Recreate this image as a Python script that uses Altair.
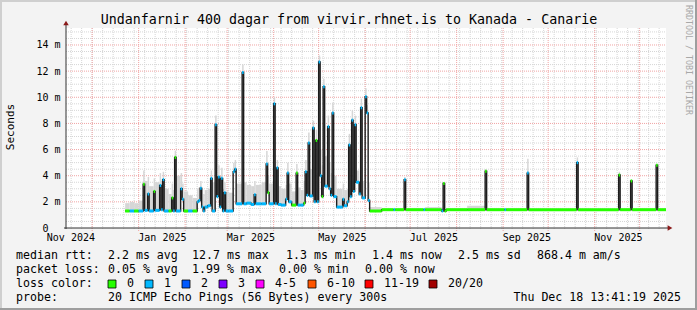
import altair as alt
import pandas as pd

# ---------------- data ----------------
dates = [
    "2024-12-23", "2024-12-26", "2024-12-29", "2025-01-01", "2025-01-04", "2025-01-05",
    "2025-01-07", "2025-01-08", "2025-01-11", "2025-01-12", "2025-01-15", "2025-01-16",
    "2025-01-17", "2025-01-18", "2025-01-21", "2025-01-23", "2025-01-24", "2025-01-25",
    "2025-01-26", "2025-01-29", "2025-01-30", "2025-01-31", "2025-02-03", "2025-02-06",
    "2025-02-09", "2025-02-10", "2025-02-11", "2025-02-12", "2025-02-13", "2025-02-14",
    "2025-02-16", "2025-02-18", "2025-02-19", "2025-02-21", "2025-02-22", "2025-02-23",
    "2025-02-24", "2025-02-25", "2025-02-26", "2025-02-27", "2025-02-28", "2025-03-02",
    "2025-03-05", "2025-03-06", "2025-03-07", "2025-03-11", "2025-03-12", "2025-03-14",
    "2025-03-17", "2025-03-19", "2025-03-20", "2025-03-24", "2025-03-27", "2025-03-28",
    "2025-03-29", "2025-04-01", "2025-04-02", "2025-04-03", "2025-04-04", "2025-04-06",
    "2025-04-09", "2025-04-10", "2025-04-11", "2025-04-13", "2025-04-16", "2025-04-17",
    "2025-04-19", "2025-04-21", "2025-04-22", "2025-04-23", "2025-04-24", "2025-04-25",
    "2025-04-27", "2025-04-28", "2025-04-29", "2025-04-30", "2025-05-01", "2025-05-02",
    "2025-05-03", "2025-05-04", "2025-05-05", "2025-05-07", "2025-05-08", "2025-05-09",
    "2025-05-10", "2025-05-11", "2025-05-13", "2025-05-17", "2025-05-18", "2025-05-20",
    "2025-05-21", "2025-05-22", "2025-05-23", "2025-05-24", "2025-05-25", "2025-05-26",
    "2025-05-28", "2025-05-29", "2025-05-30", "2025-06-01", "2025-06-02", "2025-06-03",
    "2025-06-04", "2025-06-12", "2025-06-20", "2025-06-21",
    "2025-06-27", "2025-06-28", "2025-07-10", "2025-07-11", "2025-07-22", "2025-07-23",
    "2025-07-24", "2025-07-25", "2025-08-08", "2025-08-20", "2025-08-21", "2025-09-02",
    "2025-09-03", "2025-09-17", "2025-09-18", "2025-10-20", "2025-10-21", "2025-11-17",
    "2025-11-18", "2025-11-25", "2025-11-26", "2025-12-12", "2025-12-13",
]
median_ms = [
    1.30, 1.30, 1.30, 1.30, 3.35, 1.35,
    2.60, 1.30, 2.80, 1.35, 3.25, 1.40,
    3.70, 1.30, 1.30, 2.30, 1.30, 5.40,
    1.30, 3.00, 2.20, 1.30, 1.30, 1.30,
    2.00, 2.10, 3.05, 1.60, 1.30, 1.60,
    1.70, 3.80, 1.30, 7.90, 2.40, 3.90,
    1.60, 3.80, 1.30, 2.70, 1.30, 1.30,
    4.30, 4.50, 1.85, 11.90, 1.85, 1.90,
    1.80, 2.55, 1.85, 1.85, 4.90, 2.70,
    1.85, 9.50, 1.85, 4.60, 1.80, 1.75,
    2.20, 4.20, 2.00, 1.75, 4.20, 1.75,
    1.75, 1.90, 4.30, 2.50, 6.50, 2.45,
    7.65, 2.00, 6.70, 2.00, 12.70, 4.00,
    2.40, 10.80, 3.20, 7.75, 3.00, 2.50,
    8.80, 2.40, 1.60, 2.20, 1.70, 2.00,
    6.35, 2.40, 8.25, 2.80, 7.90, 3.50,
    2.60, 9.20, 2.30, 10.05, 8.80, 2.10,
    1.30, 1.40, 1.40, 1.40,
    3.70, 1.40, 1.40, 1.40, 1.30, 3.40,
    1.30, 1.40, 1.40, 4.35, 1.40, 1.40,
    1.40, 4.20, 1.40, 5.00, 1.40, 4.05,
    1.40, 3.60, 1.40, 4.80, 1.40,
]
loss = [
    0, 1, 0, 1, 0, 1,
    1, 1, 0, 1, 1, 1,
    1, 1, 0, 0, 1, 0,
    1, 1, 1, 0, 1, 0,
    1, 1, 1, 1, 1, 1,
    1, 1, 1, 1, 1, 1,
    1, 1, 1, 1, 1, 1,
    1, 1, 1, 1, 1, 1,
    1, 1, 1, 1, 1, 0,
    1, 1, 1, 1, 1, 1,
    1, 1, 1, 0, 0, 1,
    1, 0, 1, 1, 1, 1,
    1, 1, 0, 1, 1, 1,
    0, 1, 1, 1, 1, 1,
    1, 1, 1, 1, 1, 1,
    1, 1, 1, 1, 1, 1,
    1, 1, 1, 1, 1, 1,
    0, 0, 1, 0,
    1, 0, 1, 0, 1, 0,
    0, 0, 0, 0, 0, 1,
    0, 1, 0, 1, 0, 0,
    0, 0, 0, 0, 0,
]
smoke_ms = [
    1.9, 2.0, 1.9, 2.1, 4.4, 3.6,
    3.9, 3.2, 3.8, 3.5, 4.2, 3.6,
    4.3, 3.0, 2.6, 3.4, 2.9, 5.9,
    4.0, 4.2, 3.4, 2.8, 2.5, 2.3,
    3.0, 3.1, 3.6, 3.0, 2.6, 2.9,
    3.0, 4.4, 3.5, 8.6, 4.0, 4.8,
    3.8, 4.6, 3.0, 3.5, 2.8, 2.7,
    5.0, 5.2, 3.4, 12.5, 3.5, 3.3,
    3.2, 3.6, 3.3, 3.5, 5.9, 4.0,
    3.4, 10.0, 3.6, 5.2, 3.2, 3.0,
    3.3, 5.0, 3.4, 2.8, 4.9, 3.1,
    2.9, 3.6, 5.2, 4.2, 7.3, 4.5,
    8.2, 4.6, 7.5, 4.2, 13.2, 6.0,
    4.8, 11.4, 5.5, 8.6, 5.0, 4.2,
    9.6, 4.0, 3.0, 3.4, 2.9, 3.0,
    7.2, 3.6, 9.0, 3.8, 8.6, 4.4,
    3.4, 9.9, 3.6, 10.7, 9.4, 3.5,
    1.6, 1.5, 1.5, 1.5,
    3.9, 1.5, 1.5, 1.6, 1.4, 3.5,
    1.4, 1.5, 1.7, 4.5, 1.5, 1.5,
    1.5, 5.3, 1.5, 5.4, 1.5, 4.3,
    1.5, 3.7, 1.5, 4.9, 1.5,
]
loss_labels = ["0", "1", "2", "3", "4-5", "6-10", "11-19", "20/20"]
loss_colors = ["#26ff00", "#00b8ff", "#0059ff", "#7e00ff", "#ff00ff", "#ff5500", "#ff0000", "#a10000"]
y_ticks = [0, 2, 4, 6, 8, 10, 12, 14]
x_label_dates = [(2024, 11), (2025, 1), (2025, 3), (2025, 5), (2025, 7), (2025, 9), (2025, 11)]

title_text = "Undanfarnir 400 dagar from virvir.rhnet.is to Kanada - Canarie"
row1 = ["median rtt:", "2.2 ms avg", "12.7 ms max", "1.3 ms min", "1.4 ms now", "2.5 ms sd", "868.4 m am/s"]
row2 = ["packet loss:", "0.05 % avg", "1.99 % max", "0.00 % min", "0.00 % now"]
row3_head = "loss color:"
row4 = ["probe:", "20 ICMP Echo Pings (56 Bytes) every 300s"]
stamp = "Thu Dec 18 13:41:19 2025"
side_text = "RRDTOOL / TOBI OETIKER"

END = "2025-12-18T13:41:19Z"

# ---------------- tables ----------------
df = pd.DataFrame({
    "date": dates,
    "date_end": dates[1:] + [END],
    "ms": median_ms,
    "loss": [str(v) for v in loss],
    "smoke": smoke_ms,
})
line_df = pd.DataFrame({"date": dates + [END], "ms": median_ms + [median_ms[-1]]})
week_df = pd.DataFrame({"date": [d.strftime("%Y-%m-%d") for d in pd.date_range("2024-11-17", "2025-12-18", freq="7D")]})
month_df = pd.DataFrame({"date": [d.strftime("%Y-%m-%d") for d in pd.date_range("2024-12-01", "2025-12-18", freq="MS")]})
hmin_df = pd.DataFrame({"ms": [v * 0.5 for v in range(1, 31) if (v * 0.5) % 2 != 0]})
hmaj_df = pd.DataFrame({"ms": [v for v in y_ticks if v > 0]})

FONT = "DejaVu Sans Mono"
W, H = 600, 200
OX, OY = 66, 28   # plot origin in the page

xscale = alt.Scale(type="utc",
                   domain=[alt.DateTime(year=2024, month=11, date=13, hours=13, minutes=41, seconds=19, utc=True),
                           alt.DateTime(year=2025, month=12, date=18, hours=13, minutes=41, seconds=19, utc=True)])
yscale = alt.Scale(domain=[0, 15.3], nice=False, zero=False)

x_axis = alt.Axis(values=[alt.DateTime(year=y, month=m, date=16, hours=12, utc=True) for y, m in x_label_dates],
                  labelExpr="utcFormat(datum.value, '%b %Y')", title=None, grid=False, ticks=False, domain=False,
                  labelFont=FONT, labelFontSize=10, labelColor="black", labelPadding=4,
                  labelOverlap=False, labelFlush=False, labelBound=False)
y_axis = alt.Axis(values=y_ticks, title=None, grid=False, ticks=False, domain=False,
                  labelExpr="datum.value == 0 ? '0' : datum.value + ' m'",
                  labelFont=FONT, labelFontSize=10, labelColor="black",
                  labelPadding={"condition": {"test": "datum.value == 0", "value": 18}, "value": 6},
                  labelOverlap=False, labelFlush=False, labelBound=False)

X = alt.X("date:T", scale=xscale, axis=x_axis)
Y = alt.Y("ms:Q", scale=yscale, axis=y_axis)

layers = []
# grid
layers.append(alt.Chart(week_df).mark_rule(color="#d6d6d6", strokeDash=[1, 1], strokeWidth=1)
              .encode(x=X, y=alt.value(0), y2=alt.value(H + 2)))
layers.append(alt.Chart(hmin_df).mark_rule(color="#d6d6d6", strokeDash=[1, 1], strokeWidth=1)
              .encode(y=Y, x=alt.value(0), x2=alt.value(W)))
layers.append(alt.Chart(month_df).mark_rule(color="#f0a4a4", strokeDash=[1, 1], strokeWidth=1)
              .encode(x=X, y=alt.value(0), y2=alt.value(H + 3)))
layers.append(alt.Chart(hmaj_df).mark_rule(color="#f0a4a4", strokeDash=[1, 1], strokeWidth=1)
              .encode(y=Y, x=alt.value(0), x2=alt.value(W)))
# smoke
layers.append(alt.Chart(df).mark_rect(color="#d6d6d6", clip=True)
              .encode(x=X, x2=alt.X2("date_end:T"), y=Y, y2=alt.Y2("smoke:Q")))
# median line
layers.append(alt.Chart(line_df).mark_line(interpolate="step-after", color="#1c1c1c", strokeWidth=1.4, clip=True)
              .encode(x=X, y=Y))
layers.append(alt.Chart(df).mark_rule(strokeWidth=3, clip=True)
              .encode(x=X, x2=alt.X2("date_end:T"), y=Y,
                      color=alt.Color("loss:N", scale=alt.Scale(domain=loss_labels, range=loss_colors), legend=None)))

one = pd.DataFrame({"k": [0]})
# axis lines + arrows
layers.append(alt.Chart(one).mark_rule(color="#333333", strokeWidth=1)
              .encode(x=alt.value(0), y=alt.value(-3), y2=alt.value(H + 1)))
layers.append(alt.Chart(one).mark_rule(color="#333333", strokeWidth=1)
              .encode(y=alt.value(H), x=alt.value(-2), x2=alt.value(W + 2)))
layers.append(alt.Chart(one).mark_point(shape="triangle-up", filled=True, color="#8b1a1a", size=30, opacity=1)
              .encode(x=alt.value(0), y=alt.value(-5)))
layers.append(alt.Chart(one).mark_point(shape="triangle-right", filled=True, color="#8b1a1a", size=30, opacity=1)
              .encode(x=alt.value(W + 4), y=alt.value(H)))


def text(t, px, py, size=11.6, align="left", angle=0, color="black"):
    return (alt.Chart(pd.DataFrame({"t": [t]}))
            .mark_text(font=FONT, fontSize=size, align=align, baseline="middle", angle=angle, color=color)
            .encode(text="t:N", x=alt.value(px - OX), y=alt.value(py - OY)))


layers.append(text(title_text, 349, 20, size=13.3, align="center"))
layers.append(text("Seconds", 11, 127, size=11, align="center", angle=270))
layers.append(text(side_text, 688, 60, size=8.3, align="center", angle=90, color="#a8a8a8"))

r1x = [16, 108, 192, 286, 372, 458, 537]
for t, px in zip(row1, r1x):
    layers.append(text(t, px, 256))
r2x = [16, 108, 192, 279, 365]
for t, px in zip(row2, r2x):
    layers.append(text(t, px, 270))
layers.append(text(row3_head, 16, 284))
box_x = [108, 145, 182, 219, 256, 308, 365, 429]
for lab, col, bx in zip(loss_labels, loss_colors, box_x):
    layers.append(alt.Chart(one).mark_rect(color=col, stroke="black", strokeWidth=0.8)
                  .encode(x=alt.value(bx - OX), x2=alt.value(bx + 8 - OX),
                          y=alt.value(280 - OY), y2=alt.value(288 - OY)))
    layers.append(text(lab, bx + 19, 284))
layers.append(text(row4[0], 16, 298))
layers.append(text(row4[1], 108, 298))
layers.append(text(stamp, 681, 298, align="right"))

# frame (3D border)
layers.append(alt.Chart(one).mark_rect(color="#cfcfcf")
              .encode(x=alt.value(-OX), x2=alt.value(697 - OX), y=alt.value(-OY), y2=alt.value(-OY + 2)))
layers.append(alt.Chart(one).mark_rect(color="#cfcfcf")
              .encode(x=alt.value(-OX), x2=alt.value(-OX + 2), y=alt.value(-OY), y2=alt.value(310 - OY)))
layers.append(alt.Chart(one).mark_rect(color="#9e9e9e")
              .encode(x=alt.value(695 - OX), x2=alt.value(697 - OX), y=alt.value(-OY), y2=alt.value(310 - OY)))
layers.append(alt.Chart(one).mark_rect(color="#9e9e9e")
              .encode(x=alt.value(-OX), x2=alt.value(697 - OX), y=alt.value(308 - OY), y2=alt.value(310 - OY)))

chart = (alt.layer(*layers)
         .properties(width=W, height=H, background="#f3f3f3",
                     padding={"left": OX, "top": OY, "right": 697 - OX - W, "bottom": 310 - OY - H},
                     autosize=alt.AutoSizeParams(type="none"))
         .configure_view(fill="white", stroke=None))

chart.save("out.html", embed_options={"renderer": "svg", "actions": False})
